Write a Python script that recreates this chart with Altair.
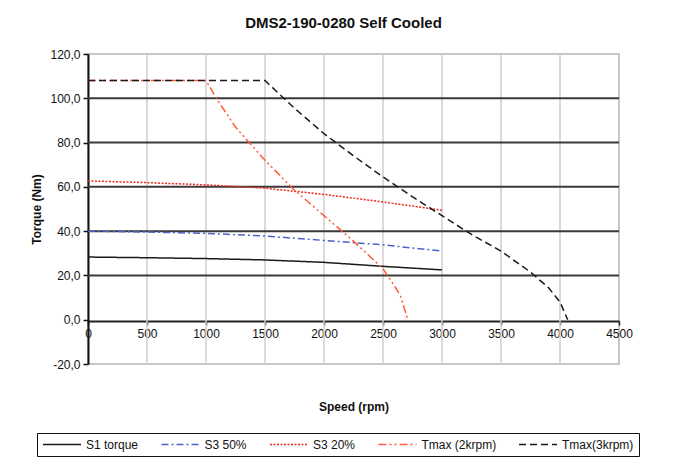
import altair as alt
import pandas as pd

# ---- data ----
series_names = ["S1 torque", "S3 50%", "S3 20%", "Tmax (2krpm)", "Tmax(3krpm)"]

s1_speed = [0, 500, 1000, 1500, 2000, 2500, 3000]
s1_torque = [28.3, 28.0, 27.6, 27.0, 25.9, 24.1, 22.5]

s3_50_speed = [0, 500, 1000, 1500, 2000, 2500, 3000]
s3_50_torque = [40.0, 39.6, 39.0, 37.8, 35.8, 33.8, 31.0]

s3_20_speed = [0, 500, 1000, 1500, 2000, 2500, 3000]
s3_20_torque = [62.7, 61.9, 60.9, 59.4, 56.6, 53.2, 49.4]

t2_speed = [0, 1000, 1100, 1250, 1500, 1750, 2000, 2250, 2500, 2600, 2650, 2710]
t2_torque = [108.0, 108.0, 99.0, 87.0, 72.0, 58.5, 47.0, 35.5, 23.0, 15.0, 10.5, 0.0]

t3_speed = [0, 1500, 1750, 2000, 2250, 2500, 2750, 3000, 3250, 3500, 3750, 3900, 4000, 4065]
t3_torque = [108.0, 108.0, 95.5, 84.0, 74.0, 64.5, 55.5, 47.0, 38.5, 31.0, 21.5, 14.6, 8.0, 0.0]

x_ticks = [0, 500, 1000, 1500, 2000, 2500, 3000, 3500, 4000, 4500]
y_ticks = [-20, 0, 20, 40, 60, 80, 100, 120]
x_grid = [500, 1000, 1500, 2000, 2500, 3000, 3500, 4000]
y_grid = [20, 40, 60, 80, 100]

colors = ["#1a1a1a", "#4a64c6", "#ee2a1a", "#ff5a3a", "#1a1a1a"]
dashes = [[1, 0], [7, 3, 2, 3], [2, 1.5], [8, 3, 2, 3, 2, 3], [7, 4]]

# ---- build table ----
rows = []
for name, sp, tq in [
    (series_names[0], s1_speed, s1_torque),
    (series_names[1], s3_50_speed, s3_50_torque),
    (series_names[2], s3_20_speed, s3_20_torque),
    (series_names[3], t2_speed, t2_torque),
    (series_names[4], t3_speed, t3_torque),
]:
    for i, (s, t) in enumerate(zip(sp, tq)):
        rows.append({"series": name, "speed": s, "torque": t, "order": i})
df = pd.DataFrame(rows)

FONT = "Liberation Sans"
W, H = 531, 310

xscale = alt.Scale(domain=[0, 4500], nice=False, zero=False)
yscale = alt.Scale(domain=[-20, 120], nice=False, zero=False)

vgrid = alt.Chart(pd.DataFrame({"g": x_grid})).mark_rule(
    color="#cfcfcf", strokeWidth=1.5
).encode(x=alt.X("g:Q", scale=xscale), y=alt.value(0), y2=alt.value(H))

hgrid = alt.Chart(pd.DataFrame({"g": y_grid})).mark_rule(
    color="#3a3a3a", strokeWidth=2
).encode(y=alt.Y("g:Q", scale=yscale), x=alt.value(0), x2=alt.value(W))

legend_kw = dict(
    title=None,
    orient="none",
    direction="horizontal",
    legendX=-51,
    legendY=379,
    symbolType="stroke",
    symbolSize=1444,
    symbolStrokeWidth=1.5,
    clipHeight=13,
    labelOffset=4,
    columnPadding=21.5,
    padding=5,
    strokeColor="#111",
    labelFontSize=12,
    labelFont=FONT,
    labelColor="#111",
)

lines = alt.Chart(df).mark_line(strokeWidth=1.5, clip=True).encode(
    x=alt.X(
        "speed:Q",
        scale=xscale,
        axis=alt.Axis(
            values=x_ticks,
            format="d",
            title="Speed (rpm)",
            offset=-43,
            grid=False,
            domainColor="#222",
            domainWidth=2,
            tickColor="#222",
            tickSize=4,
            tickWidth=1.5,
            labelPadding=3,
            titlePadding=62,
            labelFlush=False,
            labelOverlap=False,
            labelFont=FONT,
            labelFontSize=12,
            labelColor="#111",
            titleFont=FONT,
            titleFontSize=12,
            titleFontWeight="bold",
            titleColor="#111",
        ),
    ),
    y=alt.Y(
        "torque:Q",
        scale=yscale,
        axis=alt.Axis(
            values=y_ticks,
            title="Torque (Nm)",
            grid=False,
            domainColor="#111",
            domainWidth=2,
            tickColor="#111",
            tickSize=5,
            tickWidth=1.5,
            labelPadding=3,
            titlePadding=6,
            labelExpr="replace(replace(format(datum.value, '.1f'), '.', ','), '\u2212', '-')",
            labelFont=FONT,
            labelFontSize=12,
            labelColor="#111",
            titleFont=FONT,
            titleFontSize=12,
            titleFontWeight="bold",
            titleColor="#111",
        ),
    ),
    color=alt.Color(
        "series:N",
        scale=alt.Scale(domain=series_names, range=colors),
        legend=alt.Legend(**legend_kw),
    ),
    strokeDash=alt.StrokeDash(
        "series:N",
        scale=alt.Scale(domain=series_names, range=dashes),
        legend=alt.Legend(**legend_kw),
    ),
    order="order:Q",
)

chart = (
    alt.layer(vgrid, hgrid, lines)
    .properties(
        width=W,
        height=H,
        background="white",
        title=alt.TitleParams(
            "DMS2-190-0280 Self Cooled",
            font=FONT,
            fontSize=15,
            fontWeight="bold",
            color="#111",
            anchor="middle",
            dx=-10,
            offset=17,
        ),
        padding={"left": 80, "top": 46, "right": 54, "bottom": 100},
        autosize=alt.AutoSizeParams(type="none"),
    )
    .configure_view(stroke="#b5b5b5", strokeWidth=1.5)
)

chart.save("out.html", embed_options={"renderer": "svg", "actions": False})
